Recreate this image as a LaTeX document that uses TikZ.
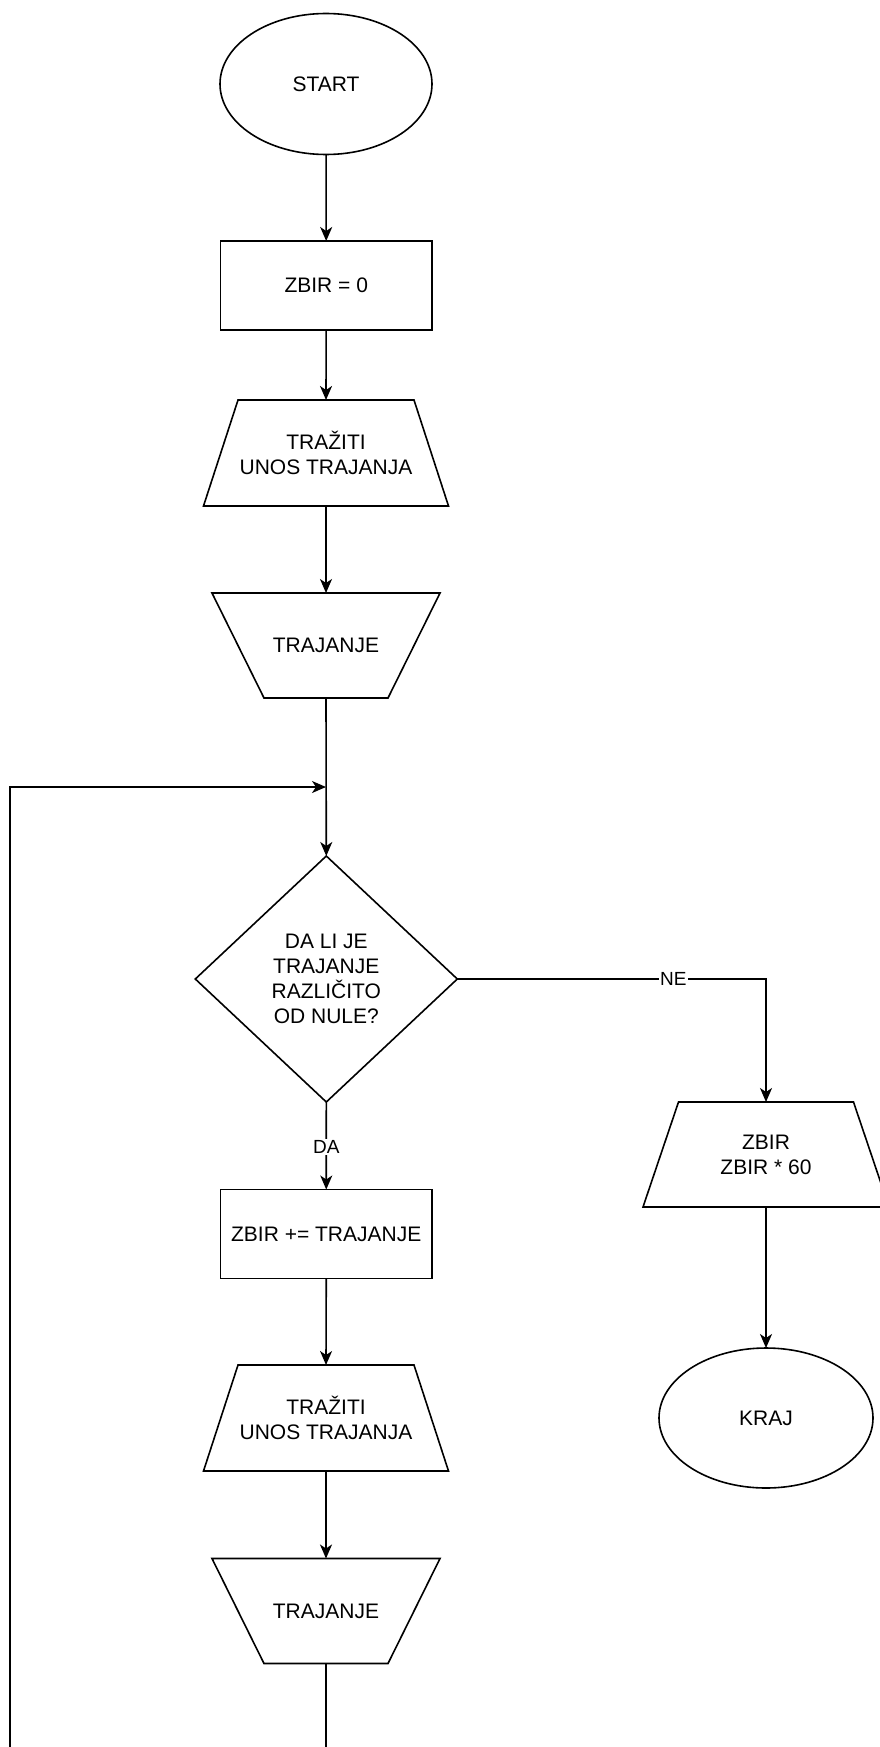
\documentclass[tikz,border=0pt]{standalone}
\usepackage{fontspec}
\setmainfont{Liberation Sans}
\usetikzlibrary{shapes.geometric,arrows.meta,calc}
\begin{document}
\begin{tikzpicture}[x=1pt,y=-1pt,
  line width=1.6pt,
  every node/.style={font=\fontsize{21}{25.2}\selectfont, inner sep=0pt, outer sep=0pt, align=center},
  term/.style={draw, ellipse, minimum width=212pt, minimum height=141pt},
  proc/.style={draw, rectangle, minimum width=211.5pt, minimum height=89pt},
  io/.style={rectangle, minimum width=245pt, minimum height=106pt},
  dec/.style={draw, diamond, minimum width=262pt, minimum height=246pt},
  arrow/.style={-{Stealth[length=14pt,width=12pt,inset=4pt]}},
  lbl/.style={font=\fontsize{19}{22}\selectfont, fill=white, inner sep=1.5pt}
]
\path[use as bounding box, fill=white] (0,0) rectangle (880,1747);

% nodes
\node[term] (start) at (326,84) {START};
\node[proc] (z0) at (326.25,285.5) {ZBIR = 0};
\node[io] (t1) at (326,453) {TRAŽITI\\UNOS TRAJANJA};
\draw (t1.south west) -- (t1.south east) -- ($(t1.north east)+(-34.5,0)$) -- ($(t1.north west)+(34.5,0)$) -- cycle;
\node[io, minimum width=228pt, minimum height=105pt] (t2) at (326,645.5) {TRAJANJE};
\draw (t2.north west) -- (t2.north east) -- ($(t2.south east)+(-52,0)$) -- ($(t2.south west)+(52,0)$) -- cycle;
\node[dec] (d) at (326.3,979) {DA LI JE\\TRAJANJE\\RAZLIČITO\\OD NULE?};
\node[proc] (zplus) at (326.25,1234) {ZBIR += TRAJANJE};
\node[io] (t3) at (326,1418) {TRAŽITI\\UNOS TRAJANJA};
\draw (t3.south west) -- (t3.south east) -- ($(t3.north east)+(-34.5,0)$) -- ($(t3.north west)+(34.5,0)$) -- cycle;
\node[io, minimum width=228pt, minimum height=105pt] (t4) at (326,1611) {TRAJANJE};
\draw (t4.north west) -- (t4.north east) -- ($(t4.south east)+(-52,0)$) -- ($(t4.south west)+(52,0)$) -- cycle;
\node[io, minimum width=246pt, minimum height=105pt] (r) at (766,1154.5) {ZBIR\\ZBIR * 60};
\draw (r.south west) -- (r.south east) -- ($(r.north east)+(-35.5,0)$) -- ($(r.north west)+(35.5,0)$) -- cycle;
\node[term, minimum width=214pt, minimum height=140pt] (kraj) at (766,1418) {KRAJ};

\coordinate (loopin) at (326,787);
\coordinate (loopcorner) at (10,1800);

% connectors
\draw[arrow] (start) -- (z0);
\draw[arrow] (z0) -- (t1.north);
\draw[arrow] (t1.south) -- (t2.north);
\draw[arrow] (t2.south) -- (d.north);
\draw[arrow] (d.east) -| node[lbl, pos=0.35] {NE} (r.north);
\draw[arrow] (d.south) -- node[lbl, pos=0.51] {DA} (zplus.north);
\draw[arrow] (zplus.south) -- (t3.north);
\draw[arrow] (t3.south) -- (t4.north);
\draw[arrow] (r.south) -- (kraj.north);
\draw[arrow] (t4.south) |- (loopcorner) |- (loopin);
\end{tikzpicture}
\end{document}
